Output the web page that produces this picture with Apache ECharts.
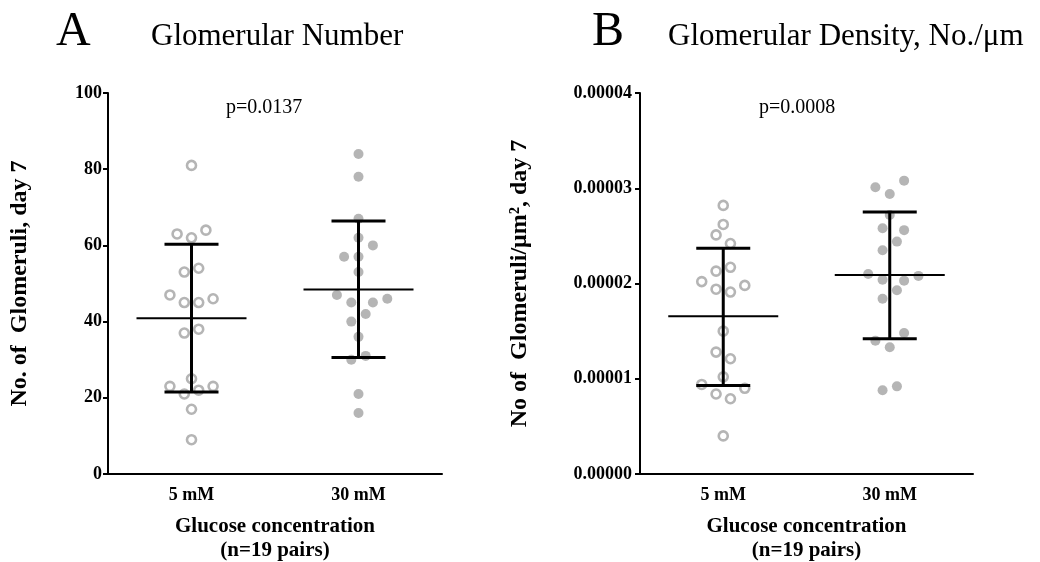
<!DOCTYPE html>
<html>
<head>
<meta charset="utf-8">
<script src="https://cdn.jsdelivr.net/npm/echarts@6/dist/echarts.min.js"></script>
<style>
html,body{margin:0;padding:0;background:#fff;}
#chart{width:1040px;height:562px;}
</style>
</head>
<body>
<div id="chart"></div>
<script>
// ---- data ----
const categories = ['5 mM', '30 mM'];

// Panel A: glomerular number (jitter = horizontal step index within the column)
const numberLow = [81, 63, 62, 64, 53, 54, 47, 45, 45, 46, 37, 38, 25, 23, 21, 22, 23, 17, 9];
const numberLowJitter = [0, -2, 0, 2, -1, 1, -3, -1, 1, 3, -1, 1, 0, -3, -1, 1, 3, 0, 0];
const numberHigh = [84, 78, 67, 62, 60, 57, 57, 53, 47, 45, 45, 46, 42, 40, 36, 31, 30, 21, 16];
const numberHighJitter = [0, 0, 0, 0, 2, -2, 0, 0, -3, -1, 2, 4, 1, -1, 0, 1, -1, 0, 0];
// mean, upper (mean+SD), lower (mean-SD) for each group
const numberSummary = [[40.9, 60.3, 21.5], [48.4, 66.4, 30.6]];

// Panel B: glomerular density
const densityLow = [0.0000282, 0.0000262, 0.0000251, 0.0000242, 0.0000213, 0.0000217, 0.0000202, 0.0000194, 0.0000191, 0.0000198,
  0.0000150, 0.0000128, 0.0000121, 0.0000102, 0.0000094, 0.0000090, 0.0000084, 0.0000079, 0.0000040];
const densityLowJitter = [0, 0, -1, 1, -1, 1, -3, -1, 1, 3, 0, -1, 1, 0, -3, 3, -1, 1, 0];
const densityHigh = [0.0000308, 0.0000301, 0.0000294, 0.0000272, 0.0000258, 0.0000256, 0.0000244, 0.0000235, 0.0000210, 0.0000204,
  0.0000203, 0.0000208, 0.0000193, 0.0000184, 0.0000148, 0.0000140, 0.0000133, 0.0000092, 0.0000088];
const densityHighJitter = [2, -2, 0, 0, -1, 2, 1, -1, -3, -1, 2, 4, 1, -1, 2, -2, 0, 1, -1];
const densitySummary = [[0.00001655, 0.0000237, 0.0000093], [0.0000209, 0.0000275, 0.0000142]];

const yTicksA = {min: 0, max: 100, interval: 20};
const yTicksB = {min: 0, max: 0.00004, interval: 0.00001};

const pValues = ['p=0.0137', 'p=0.0008'];
const titles = ['Glomerular Number', 'Glomerular Density, No./\u03bcm'];
const panelLetters = ['A', 'B'];
const yNames = ['No. of  Glomeruli, day 7', 'No of  Glomeruli/\u03bcm\u00b2, day 7'];
const xName = 'Glucose concentration\n(n=19 pairs)';

// ---- build ----
const SERIF = '"Liberation Serif", "Times New Roman", serif';
const GRAY = '#a3a3a3';
const STEP = 0.0431; // horizontal jitter step in category units

function pts(vals, jit, idx) {
  return vals.map((v, i) => [idx + jit[i] * STEP, v]);
}

function summaryData(s) {
  return s.map((r, i) => [i, r[0], r[1], r[2]]);
}

function renderBars(params, api) {
  const x = api.value(0);
  const m = api.coord([x, api.value(1)]);
  const hi = api.coord([x, api.value(2)]);
  const lo = api.coord([x, api.value(3)]);
  const mw = 55, cw = 27;
  const st = {stroke: '#000', lineWidth: 3};
  return {
    type: 'group',
    children: [
      {type: 'line', shape: {x1: m[0] - mw, y1: m[1], x2: m[0] + mw, y2: m[1]}, style: {stroke: '#000', lineWidth: 2}},
      {type: 'line', shape: {x1: hi[0], y1: hi[1], x2: lo[0], y2: lo[1]}, style: st},
      {type: 'line', shape: {x1: hi[0] - cw, y1: hi[1], x2: hi[0] + cw, y2: hi[1]}, style: st},
      {type: 'line', shape: {x1: lo[0] - cw, y1: lo[1], x2: lo[0] + cw, y2: lo[1]}, style: st}
    ]
  };
}

const grids = [
  {left: 108, top: 93, width: 334, height: 381, containLabel: false, outerBoundsMode: 'none'},
  {left: 640, top: 93, width: 333, height: 381, containLabel: false, outerBoundsMode: 'none'}
];

function catAxis(g) {
  return {
    type: 'category', gridIndex: g, data: categories, boundaryGap: true,
    axisLine: {onZero: false, lineStyle: {color: '#000', width: 2}},
    axisTick: {alignWithLabel: true, length: 5, lineStyle: {color: '#000', width: 2}},
    axisLabel: {color: '#000', fontFamily: SERIF, fontWeight: 'bold', fontSize: 18, margin: 12},
    name: xName, nameLocation: 'middle', nameGap: 41,
    nameTextStyle: {color: '#000', fontFamily: SERIF, fontWeight: 'bold', fontSize: 21, lineHeight: 24}
  };
}
function valXAxis(g) {
  return {type: 'value', gridIndex: g, min: -0.5, max: 1.5, show: false, axisLine: {onZero: false}};
}
function yAxis(g, t, fmt, gap, margin) {
  return {
    type: 'value', gridIndex: g, min: t.min, max: t.max, interval: t.interval,
    splitLine: {show: false},
    axisLine: {show: true, onZero: false, lineStyle: {color: '#000', width: 2}},
    axisTick: {show: true, length: 5, lineStyle: {color: '#000', width: 2}},
    axisLabel: {color: '#000', fontFamily: SERIF, fontWeight: 'bold', fontSize: 18, margin: margin, formatter: fmt},
    name: yNames[g], nameLocation: 'middle', nameGap: gap,
    nameTextStyle: {color: '#000', fontFamily: SERIF, fontWeight: 'bold', fontSize: 24}
  };
}

const hollow = {color: '#fff', borderColor: GRAY, borderWidth: 2.6};
const filled = {color: GRAY};

const option = {
  animation: false,
  backgroundColor: '#fff',
  grid: grids,
  xAxis: [catAxis(0), catAxis(1), valXAxis(0), valXAxis(1)],
  yAxis: [
    yAxis(0, yTicksA, v => String(v), 76, 6),
    yAxis(1, yTicksB, v => v.toFixed(5), 108, 8)
  ],
  series: [
    {type: 'scatter', xAxisIndex: 2, yAxisIndex: 0, data: pts(numberLow, numberLowJitter, 0), symbol: 'circle', symbolSize: 9, itemStyle: hollow, z: 2},
    {type: 'scatter', xAxisIndex: 2, yAxisIndex: 0, data: pts(numberHigh, numberHighJitter, 1), symbol: 'circle', symbolSize: 10, itemStyle: filled, z: 2},
    {type: 'scatter', xAxisIndex: 3, yAxisIndex: 1, data: pts(densityLow, densityLowJitter, 0), symbol: 'circle', symbolSize: 9, itemStyle: hollow, z: 2},
    {type: 'scatter', xAxisIndex: 3, yAxisIndex: 1, data: pts(densityHigh, densityHighJitter, 1), symbol: 'circle', symbolSize: 10, itemStyle: filled, z: 2},
    {type: 'custom', xAxisIndex: 2, yAxisIndex: 0, data: summaryData(numberSummary), renderItem: renderBars, z: 5, silent: true},
    {type: 'custom', xAxisIndex: 3, yAxisIndex: 1, data: summaryData(densitySummary), renderItem: renderBars, z: 5, silent: true}
  ],
  graphic: [
    {type: 'text', left: 56, top: 8, style: {text: panelLetters[0], font: '48px ' + SERIF, fill: '#000'}},
    {type: 'text', left: 151, top: 21, style: {text: titles[0], font: '31px ' + SERIF, fill: '#000'}},
    {type: 'text', left: 592, top: 8, style: {text: panelLetters[1], font: '48px ' + SERIF, fill: '#000'}},
    {type: 'text', left: 668, top: 21, style: {text: titles[1], font: '31px ' + SERIF, fill: '#000'}},
    {type: 'text', left: 226, top: 98, style: {text: pValues[0], font: '20px ' + SERIF, fill: '#000'}},
    {type: 'text', left: 759, top: 98, style: {text: pValues[1], font: '20px ' + SERIF, fill: '#000'}}
  ]
};

const chart = echarts.init(document.getElementById('chart'), null, {renderer: 'canvas'});
chart.setOption(option);
</script>
</body>
</html>
